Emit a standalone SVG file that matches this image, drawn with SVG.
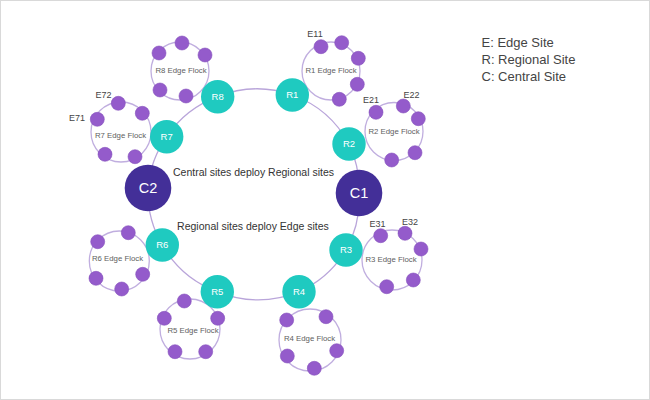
<svg xmlns="http://www.w3.org/2000/svg" width="650" height="400" viewBox="0 0 650 400">
<style>
.bg{fill:#ffffff;stroke:#d9d9d9;stroke-width:1}
.ring{fill:none;stroke:#b9a5da;stroke-width:1.3}
.flock{fill:none;stroke:#c0aedf;stroke-width:1.3}
.dot{fill:#945bcb;stroke:#8550bc;stroke-width:0.6}
.reg{fill:#1fcac0}
.cen{fill:#432f98}
.rl{font-family:"Liberation Sans",Arial,sans-serif;font-size:9.5px;fill:#ffffff;text-anchor:middle}
.cl{font-family:"Liberation Sans",Arial,sans-serif;font-size:14.5px;fill:#ffffff;text-anchor:middle}
.fl{font-family:"Liberation Sans",Arial,sans-serif;font-size:7.8px;fill:#606060;text-anchor:middle}
.el{font-family:"Liberation Sans",Arial,sans-serif;font-size:9px;fill:#444444;text-anchor:middle}
.mid{font-family:"Liberation Sans",Arial,sans-serif;font-size:10.5px;fill:#333333;text-anchor:middle}
.lg{font-family:"Liberation Sans",Arial,sans-serif;font-size:13px;fill:#444444}
</style>
<rect class="bg" x="0.5" y="0.5" width="649" height="399"/>
<g id="connectors">
<path class="ring" d="M148,188 A105,105 0 0 1 166.7,136.7 A105,105 0 0 1 217.7,96.7 A105,105 0 0 1 292.3,95 A105,105 0 0 1 349,144 A105,105 0 0 1 359,193 A105,105 0 0 1 346,250 A105,105 0 0 1 299,291.7 A105,105 0 0 1 217.3,291.7 A105,105 0 0 1 162.3,245 A105,105 0 0 1 148,188"/>
</g>
<g id="flock-r8">
<circle class="flock" cx="180" cy="71" r="29"/>
<circle class="dot" cx="182" cy="43" r="7"/>
<circle class="dot" cx="205" cy="55" r="7"/>
<circle class="dot" cx="159" cy="53" r="7"/>
<circle class="dot" cx="160" cy="90" r="7"/>
<circle class="dot" cx="186" cy="96" r="7"/>
<text class="fl" x="181" y="73">R8 Edge Flock</text>
</g>
<g id="flock-r7">
<circle class="flock" cx="121" cy="132" r="30"/>
<circle class="dot" cx="118.3" cy="103.3" r="7"/>
<circle class="dot" cx="142.3" cy="113.3" r="7"/>
<circle class="dot" cx="97.3" cy="119.3" r="7"/>
<circle class="dot" cx="105" cy="154.3" r="7"/>
<circle class="dot" cx="135" cy="156.7" r="7"/>
<text class="fl" x="120.5" y="137.5">R7 Edge Flock</text>
<text class="el" x="103.5" y="97.5">E72</text>
<text class="el" x="77" y="120.5">E71</text>
</g>
<g id="flock-r1">
<circle class="flock" cx="331" cy="71" r="29"/>
<circle class="dot" cx="321" cy="46.7" r="7"/>
<circle class="dot" cx="341.7" cy="42.7" r="7"/>
<circle class="dot" cx="358.3" cy="58.3" r="7"/>
<circle class="dot" cx="357.3" cy="84.3" r="7"/>
<circle class="dot" cx="339.3" cy="99.3" r="7"/>
<text class="fl" x="331" y="72.5">R1 Edge Flock</text>
<text class="el" x="315" y="37">E11</text>
</g>
<g id="flock-r2">
<circle class="flock" cx="394" cy="131.5" r="29"/>
<circle class="dot" cx="376" cy="112.3" r="7"/>
<circle class="dot" cx="403.3" cy="106" r="7"/>
<circle class="dot" cx="418.3" cy="118.7" r="7"/>
<circle class="dot" cx="415" cy="152.7" r="7"/>
<circle class="dot" cx="391.7" cy="160" r="7"/>
<text class="fl" x="394" y="133.5">R2 Edge Flock</text>
<text class="el" x="371" y="103">E21</text>
<text class="el" x="411.5" y="98">E22</text>
</g>
<g id="flock-r3">
<circle class="flock" cx="392" cy="260" r="30"/>
<circle class="dot" cx="380.7" cy="235.7" r="7"/>
<circle class="dot" cx="405" cy="233.3" r="7"/>
<circle class="dot" cx="421" cy="249" r="7"/>
<circle class="dot" cx="413.3" cy="280" r="7"/>
<circle class="dot" cx="386.7" cy="286.7" r="7"/>
<text class="fl" x="391" y="261.5">R3 Edge Flock</text>
<text class="el" x="377.5" y="226.5">E31</text>
<text class="el" x="410" y="225">E32</text>
</g>
<g id="flock-r4">
<circle class="flock" cx="310" cy="340" r="31"/>
<circle class="dot" cx="286.7" cy="320" r="7"/>
<circle class="dot" cx="326" cy="316.7" r="7"/>
<circle class="dot" cx="336.7" cy="350.7" r="7"/>
<circle class="dot" cx="287.3" cy="356" r="7"/>
<circle class="dot" cx="314.3" cy="368.3" r="7"/>
<text class="fl" x="309.5" y="341">R4 Edge Flock</text>
</g>
<g id="flock-r5">
<circle class="flock" cx="190" cy="329" r="30"/>
<circle class="dot" cx="184.3" cy="301" r="7"/>
<circle class="dot" cx="164.3" cy="318.3" r="7"/>
<circle class="dot" cx="217.7" cy="318.3" r="7"/>
<circle class="dot" cx="175" cy="351.7" r="7"/>
<circle class="dot" cx="205.7" cy="351.7" r="7"/>
<text class="fl" x="193" y="333">R5 Edge Flock</text>
</g>
<g id="flock-r6">
<circle class="flock" cx="119.3" cy="261" r="30"/>
<circle class="dot" cx="128.3" cy="232.7" r="7"/>
<circle class="dot" cx="97.7" cy="241.7" r="7"/>
<circle class="dot" cx="142.7" cy="274.3" r="7"/>
<circle class="dot" cx="96" cy="278.3" r="7"/>
<circle class="dot" cx="121.7" cy="289" r="7"/>
<text class="fl" x="117.5" y="261">R6 Edge Flock</text>
</g>
<g id="R8"><circle class="reg" cx="217.7" cy="96.7" r="16.7"/><text class="rl" x="217.7" y="100">R8</text></g>
<g id="R7"><circle class="reg" cx="166.7" cy="136.7" r="16.7"/><text class="rl" x="166.7" y="140">R7</text></g>
<g id="R1"><circle class="reg" cx="292.3" cy="95" r="16.7"/><text class="rl" x="292.3" y="98.3">R1</text></g>
<g id="R2"><circle class="reg" cx="349" cy="144" r="16.7"/><text class="rl" x="349" y="147.3">R2</text></g>
<g id="R3"><circle class="reg" cx="346" cy="250" r="16.7"/><text class="rl" x="346" y="253.3">R3</text></g>
<g id="R4"><circle class="reg" cx="299" cy="291.7" r="16.7"/><text class="rl" x="299" y="295">R4</text></g>
<g id="R5"><circle class="reg" cx="217.3" cy="291.7" r="16.7"/><text class="rl" x="217.3" y="295">R5</text></g>
<g id="R6"><circle class="reg" cx="162.3" cy="245" r="16.7"/><text class="rl" x="162.3" y="248.3">R6</text></g>
<g id="C2"><circle class="cen" cx="148" cy="188" r="23.3"/><text class="cl" x="148" y="193">C2</text></g>
<g id="C1"><circle class="cen" cx="359" cy="193" r="23.3"/><text class="cl" x="359" y="198">C1</text></g>
<g id="captions">
<text class="mid" x="253.5" y="176">Central sites deploy Regional sites</text>
<text class="mid" x="253" y="230">Regional sites deploy Edge sites</text>
</g>
<g id="legend">
<text class="lg" x="481.5" y="46.5">E: Edge Site</text>
<text class="lg" x="481.5" y="63.5">R: Regional Site</text>
<text class="lg" x="481.5" y="80.5">C: Central Site</text>
</g>
</svg>
